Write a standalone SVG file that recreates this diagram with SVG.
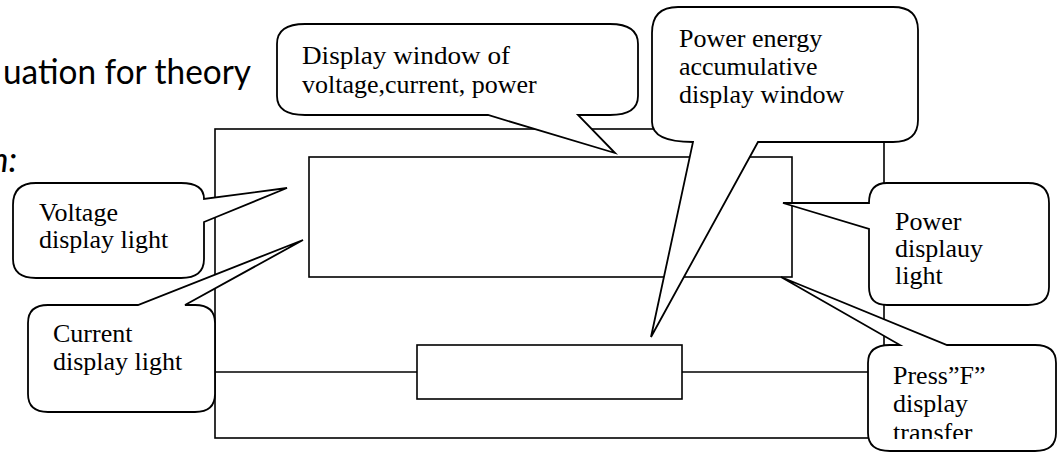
<svg xmlns="http://www.w3.org/2000/svg" width="1063" height="453" viewBox="0 0 1063 453">
<style>
.ln{fill:none;stroke:#000;stroke-width:1.6}
.bx{fill:#fff;stroke:#000;stroke-width:1.6;stroke-linejoin:miter}
.bb{fill:#fff;stroke:#000;stroke-width:1.8;stroke-linejoin:miter}
.t{font-family:"Liberation Serif","Times New Roman",serif;font-size:26px;fill:#000}
.h{font-family:Lato,"Open Sans",sans-serif;font-size:35px;fill:#000}
</style>
<defs>
<clipPath id="pressClip"><rect x="868" y="345" width="190" height="94"/></clipPath>
</defs>
<rect width="1063" height="453" fill="#fff"/>
<g id="heading">
<text class="h" x="3" y="84" textLength="248" lengthAdjust="spacingAndGlyphs">uation for theory</text>
<text class="h" x="-10" y="172" font-style="italic">n:</text>
</g>
<g id="panel">
<rect class="ln" x="215" y="129" width="669" height="309"/>
</g>
<g id="display-window">
<rect class="bx" x="309" y="157" width="483" height="120"/>
</g>
<g id="energy-window">
<rect class="bx" x="417" y="345" width="265" height="54"/>
</g>
<g id="connectors">
<line class="ln" x1="215" y1="372" x2="417" y2="372"/>
<line class="ln" x1="682" y1="372" x2="884" y2="372"/>
</g>
<g id="callout-display">
<path class="bb" d="M305,24 H610 Q638,24 638,44 V96 Q638,115 610,115 H578 L615,153 L488,115 H305 Q277,115 277,96 V44 Q277,24 305,24 Z"/>
<text class="t" x="302" y="64" textLength="208" lengthAdjust="spacingAndGlyphs">Display window of</text>
<text class="t" x="302" y="93">voltage,current, power</text>
</g>
<g id="callout-energy">
<path class="bb" d="M678,7 H893 Q918,7 918,30 V120 Q918,142 893,142 H758 L651,337 L693,142 Q652,142 652,122 V33 Q652,7 678,7 Z"/>
<text class="t" x="679" y="47">Power energy</text>
<text class="t" x="679" y="75">accumulative</text>
<text class="t" x="679" y="103">display window</text>
</g>
<g id="callout-voltage">
<path class="bb" d="M36,183 H181 Q204,183 204,199 L287,188 L204,222 V259 Q204,278 181,278 H36 Q13,278 13,259 V205 Q13,183 36,183 Z"/>
<text class="t" x="39" y="221">Voltage</text>
<text class="t" x="39" y="248">display light</text>
</g>
<g id="callout-current">
<path class="bb" d="M48,305 H138 L303,240 L185,305 H195 Q215,305 215,323 V394 Q215,412 195,412 H48 Q28,412 28,394 V323 Q28,305 48,305 Z"/>
<text class="t" x="53" y="342">Current</text>
<text class="t" x="53" y="370">display light</text>
</g>
<g id="callout-power">
<path class="bb" d="M887,183 H1028 Q1049,183 1049,203 V287 Q1049,305 1028,305 H887 Q869,305 869,287 V229 L783,203 H869 Q869,183 887,183 Z"/>
<text class="t" x="895" y="230">Power</text>
<text class="t" x="895" y="257">displauy</text>
<text class="t" x="895" y="284">light</text>
</g>
<g id="callout-press">
<path class="bb" d="M890,345 H900 L781,277 L947,345 H1035 Q1056,345 1056,363 V433 Q1056,451 1035,451 H890 Q868,451 868,433 V363 Q868,345 890,345 Z"/>
<g clip-path="url(#pressClip)">
<text class="t" x="893" y="384">Press”F”</text>
<text class="t" x="893" y="412">display</text>
<text class="t" x="893" y="441">transfer</text>
</g>
</g>
</svg>
